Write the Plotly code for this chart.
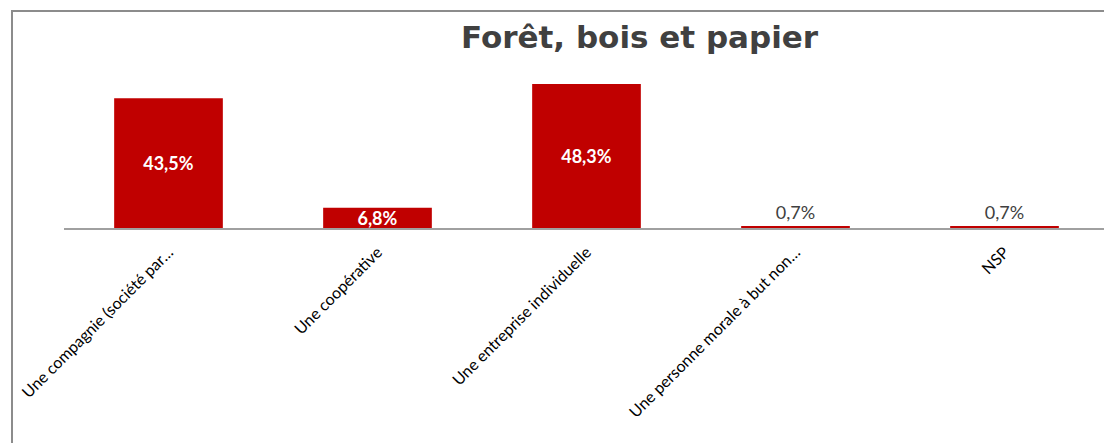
import plotly.graph_objects as go

categories = [
    "Une compagnie (société par…",
    "Une coopérative",
    "Une entreprise individuelle",
    "Une personne morale à but non…",
    "NSP",
]
values = [43.5, 6.8, 48.3, 0.7, 0.7]
title_text = "Forêt, bois et papier"

positions = ["inside" if v > 5 else "outside" for v in values]
labels = []
for v, p in zip(values, positions):
    s = f"{v:.1f}%".replace(".", ",")
    labels.append("<b>" + s + "</b>" if p == "inside" else s)

# page body has an 8px offset; all target pixel positions are shifted by -8
OFF = 8
W, H = 1112, 443
L, R = 64 - OFF, W - (1109 - OFF)
T = 60 - OFF
B = H - (228 - OFF)
pw = W - L - R
ph = H - T - B


def px_x(x):
    return (x - OFF - L) / pw


def px_y(y):
    return (H - B - (y - OFF)) / ph


fig = go.Figure(
    go.Bar(
        x=categories,
        y=values,
        marker=dict(color="#C00000", line=dict(width=0)),
        text=labels,
        textposition=positions,
        insidetextanchor="middle",
        insidetextfont=dict(family="Lato", size=18, color="white"),
        outsidetextfont=dict(family="Lato", size=18, color="#404040"),
        cliponaxis=False,
        constraintext="none",
    )
)

fig.update_layout(
    width=W,
    height=H,
    margin=dict(l=L, r=R, t=T, b=B, autoexpand=False),
    paper_bgcolor="white",
    plot_bgcolor="white",
    bargap=0.48,
    showlegend=False,
    xaxis=dict(
        tickangle=-45,
        tickfont=dict(family="Lato", size=16, color="#000000"),
        ticklabelstandoff=7,
        showline=True,
        linecolor="#A0A0A0",
        linewidth=1.5,
        ticks="",
        showgrid=False,
    ),
    yaxis=dict(
        range=[0, ph / (144 / 48.3)],
        visible=False,
        showgrid=False,
        zeroline=False,
    ),
    annotations=[
        dict(
            text="<b>" + title_text + "</b>",
            xref="paper",
            yref="paper",
            x=px_x(640),
            y=px_y(37),
            xanchor="center",
            yanchor="middle",
            showarrow=False,
            font=dict(family="DejaVu Sans", size=31, color="#404040"),
        )
    ],
    shapes=[
        dict(
            type="rect",
            xref="paper",
            yref="paper",
            x0=px_x(12),
            x1=px_x(1160),
            y0=px_y(520),
            y1=px_y(11),
            line=dict(color="#8C8C8C", width=2),
            fillcolor="rgba(0,0,0,0)",
            layer="below",
        )
    ],
)

fig.write_html("out.html")
